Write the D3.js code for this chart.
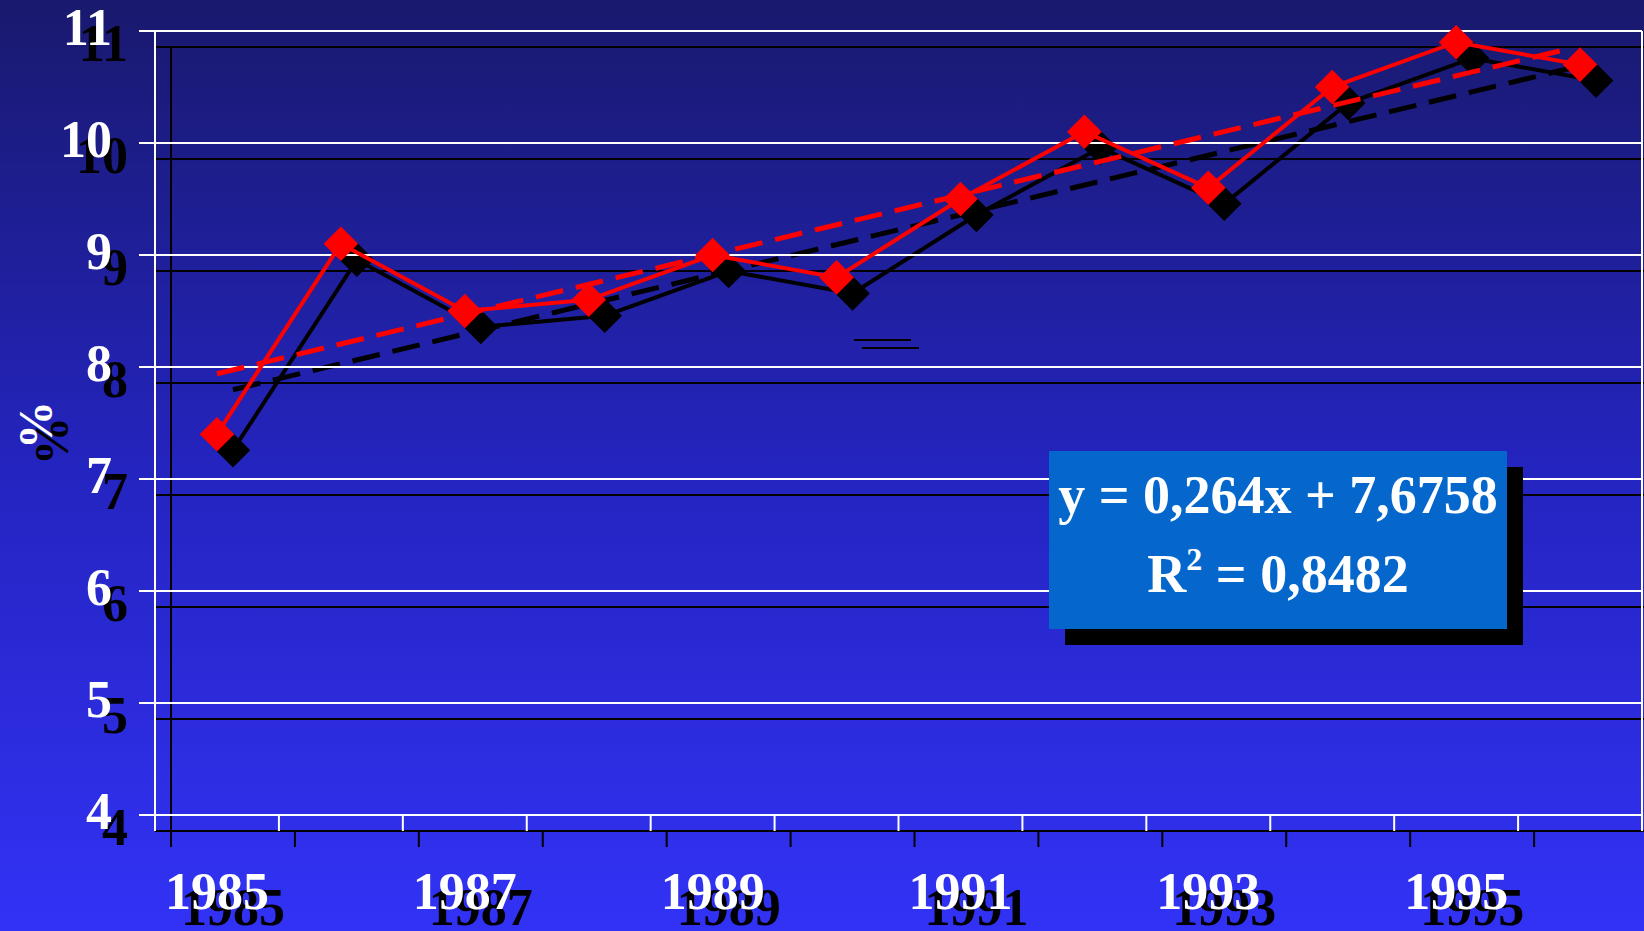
<!DOCTYPE html>
<html>
<head>
<meta charset="utf-8">
<script src="https://cdn.jsdelivr.net/npm/d3@7"></script>
<style>
  html, body { margin: 0; padding: 0; overflow: hidden; }
  body { width: 1644px; height: 931px; }
  svg text { font-family: "Liberation Serif", "Times New Roman", serif; font-weight: bold; }
</style>
</head>
<body>
<div id="figure"></div>
<script>
// data
var years = [1985, 1986, 1987, 1988, 1989, 1990, 1991, 1992, 1993, 1994, 1995, 1996];
var values = [7.4, 9.1, 8.5, 8.6, 9.0, 8.8, 9.5, 10.1, 9.6, 10.5, 10.9, 10.7];
var yTicks = [4, 5, 6, 7, 8, 9, 10, 11];
var xLabels = [1985, 1987, 1989, 1991, 1993, 1995];
var trendSlope = 0.264, trendIntercept = 7.6758;
var eqText = "y = 0,264x + 7,6758";
var r2Text = " = 0,8482";

var W = 1644, H = 931;
var shadow = 16, tick = 16;

var svg = d3.select("#figure").append("svg").attr("width", W).attr("height", H);

var grad = svg.append("defs").append("linearGradient")
	.attr("id", "bg").attr("x1", 0).attr("y1", 0).attr("x2", 0).attr("y2", 1);
grad.append("stop").attr("offset", "0%").attr("stop-color", "#19196e");
grad.append("stop").attr("offset", "50%").attr("stop-color", "#2424bf");
grad.append("stop").attr("offset", "100%").attr("stop-color", "#3232f6");
svg.append("rect").attr("width", W).attr("height", H).attr("fill", "url(#bg)");

var x = d3.scaleBand().domain(years).range([155, 1642]);
var y = d3.scaleLinear().domain([4, 11]).range([815, 31]);
var xc = function(yr) { return x(yr) + x.bandwidth() / 2; };

function layer(dx, dy, gridCol, lineCol, textCol) {
	var g = svg.append("g").attr("transform", "translate(" + dx + "," + dy + ")");
	var x0 = x.range()[0], x1 = x.range()[1];

	// horizontal grid with outer ticks
	g.selectAll("line.grid").data(yTicks).enter().append("line")
		.attr("x1", x0 - tick).attr("x2", x1)
		.attr("y1", function(d) { return y(d); }).attr("y2", function(d) { return y(d); })
		.attr("stroke", gridCol).attr("stroke-width", 2);
	// left axis + right border
	g.append("line").attr("x1", x0).attr("x2", x0).attr("y1", y(11)).attr("y2", y(4) + tick)
		.attr("stroke", gridCol).attr("stroke-width", 2);
	g.append("line").attr("x1", x1).attr("x2", x1).attr("y1", y(11)).attr("y2", y(4))
		.attr("stroke", gridCol).attr("stroke-width", 2);
	// category ticks
	g.selectAll("line.xt").data(years.slice(1).concat(["end"])).enter().append("line")
		.attr("x1", function(d) { return d == "end" ? x1 : x(d); })
		.attr("x2", function(d) { return d == "end" ? x1 : x(d); })
		.attr("y1", y(4)).attr("y2", y(4) + tick)
		.attr("stroke", gridCol).attr("stroke-width", 2);

	// y labels
	g.selectAll("text.yl").data(yTicks).enter().append("text")
		.attr("x", 112).attr("y", function(d) { return y(d) + 14; })
		.attr("text-anchor", "end").attr("font-size", "52px").attr("fill", textCol)
		.text(function(d) { return d; });
	// x labels
	g.selectAll("text.xl").data(xLabels).enter().append("text")
		.attr("x", function(d) { return xc(d); }).attr("y", 909)
		.attr("text-anchor", "middle").attr("font-size", "52px").attr("fill", textCol)
		.text(function(d) { return d; });
	// axis title
	g.append("text").attr("transform", "translate(52,425) rotate(-90)")
		.attr("text-anchor", "middle").attr("font-size", "48px").attr("fill", textCol)
		.text("%");

	// trend line
	var first = 1, last = years.length;
	g.append("line")
		.attr("x1", xc(years[0])).attr("y1", y(trendSlope * first + trendIntercept))
		.attr("x2", xc(years[last - 1]) - 10).attr("y2", y(trendSlope * last + trendIntercept))
		.attr("stroke", lineCol).attr("stroke-width", 5).attr("stroke-dasharray", "28,13");

	// series
	var line = d3.line().x(function(d, i) { return xc(years[i]); }).y(function(d) { return y(d); });
	g.append("path").datum(values).attr("d", line)
		.attr("fill", "none").attr("stroke", lineCol).attr("stroke-width", 4);
	g.selectAll("path.mk").data(values).enter().append("path")
		.attr("d", d3.symbol().type(d3.symbolSquare).size(600))
		.attr("transform", function(d, i) { return "translate(" + xc(years[i]) + "," + y(d) + ") rotate(45)"; })
		.attr("fill", lineCol);
	return g;
}

layer(shadow, shadow, "#000", "#000", "#000");
layer(0, 0, "#fff", "#ff0000", "#fff");

// stray legend marks
svg.append("line").attr("x1", 854).attr("x2", 911).attr("y1", 340).attr("y2", 340)
	.attr("stroke", "#000").attr("stroke-width", 2);
svg.append("line").attr("x1", 862).attr("x2", 919).attr("y1", 348).attr("y2", 348)
	.attr("stroke", "#000").attr("stroke-width", 2);

// equation box
var bx = 1049, by = 451, bw = 458, bh = 178;
svg.append("rect").attr("x", bx + shadow).attr("y", by + shadow).attr("width", bw).attr("height", bh).attr("fill", "#000");
svg.append("rect").attr("x", bx).attr("y", by).attr("width", bw).attr("height", bh).attr("fill", "#0566cc");
svg.append("text").attr("x", bx + bw / 2).attr("y", 513).attr("text-anchor", "middle")
	.attr("font-size", "54px").attr("fill", "#fff").text(eqText);
var r2 = svg.append("text").attr("x", bx + bw / 2).attr("y", 592).attr("text-anchor", "middle")
	.attr("font-size", "54px").attr("fill", "#fff");
r2.append("tspan").text("R");
r2.append("tspan").attr("font-size", "32px").attr("dy", -22).text("2");
r2.append("tspan").attr("dy", 22).text(r2Text);
</script>
</body>
</html>
